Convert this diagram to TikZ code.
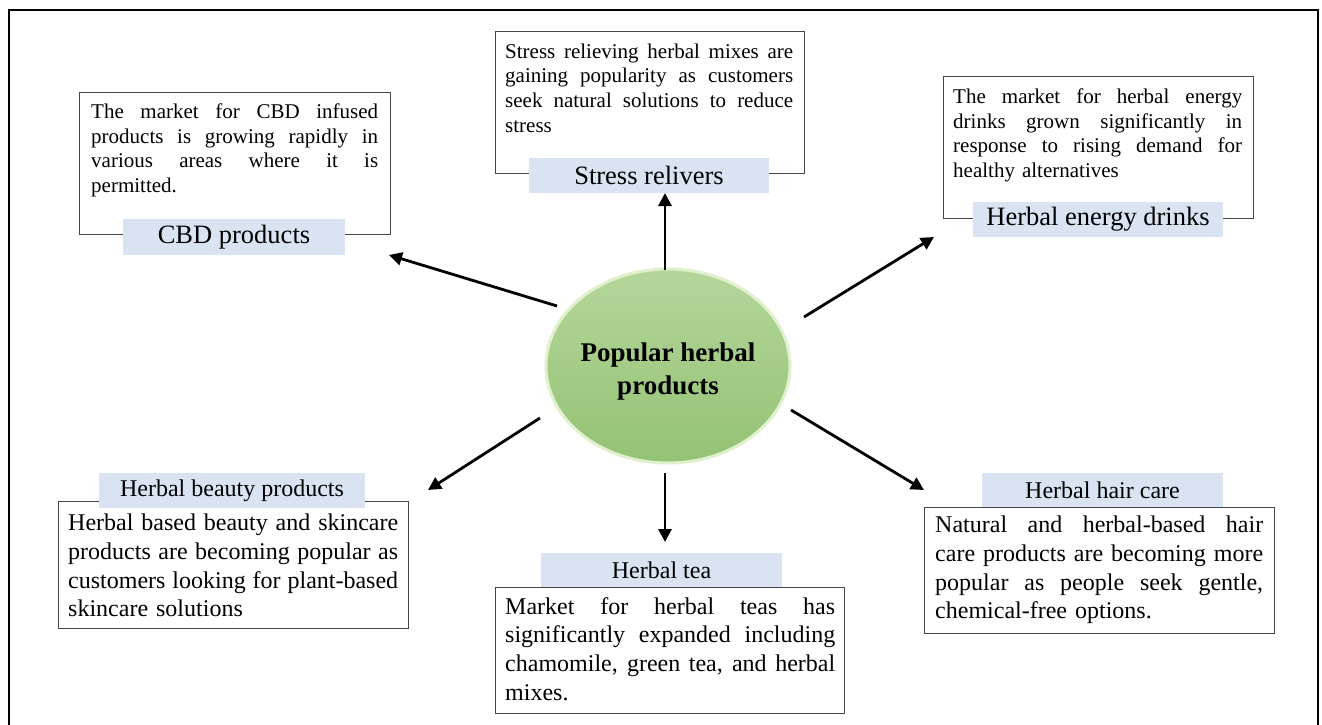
\documentclass[tikz,border=0pt]{standalone}
\usepackage{fontspec}
\setmainfont{Liberation Serif}
\usetikzlibrary{arrows.meta,shapes.geometric}

\definecolor{labelblue}{RGB}{218,227,242}
\definecolor{boxgray}{RGB}{70,70,70}
\definecolor{ellTop}{RGB}{180,214,154}
\definecolor{ellBot}{RGB}{148,194,116}
\definecolor{ellRim}{RGB}{224,240,204}

\newcommand\jline[2]{\leavevmode\hbox to #1{\spaceskip=\fontdimen2\font plus 1fil\relax #2}\\}

\begin{document}
\begin{tikzpicture}[x=1pt,y=-1pt,
  boxrect/.style={draw=boxgray, line width=1.1pt, rectangle, inner sep=0pt, anchor=north west},
  toptext/.style={anchor=north west, inner sep=0pt, align=left, font=\fontsize{21}{24.7}\selectfont},
  bottext/.style={anchor=north west, inner sep=0pt, align=left, font=\fontsize{24}{28.7}\selectfont},
  toplabel/.style={fill=labelblue, inner sep=0pt, font=\fontsize{26.5}{30}\selectfont},
  botlabel/.style={fill=labelblue, inner sep=0pt, font=\fontsize{24}{28}\selectfont},
  arr/.style={line width=2.8pt, -{Triangle[length=13pt,width=13pt]}},
]
\useasboundingbox (0,0) rectangle (1322,725);
\fill[white] (0,0) rectangle (1322,725);
\draw[line width=2.8pt, line join=miter] (9,725) -- (9,10) -- (1318,10) -- (1318,725);

% central ellipse
\node[ellipse, minimum width=244pt, minimum height=194pt, top color=ellTop, bottom color=ellBot,
      draw=ellRim, line width=3pt] (center) at (668,366) {};
\node[align=center, inner sep=0pt, font=\bfseries\fontsize{27}{33}\selectfont]
      (centertext) at (668,372) {Popular herbal\\products};

% CBD products
\node[boxrect, minimum width=311pt, minimum height=142pt] (cbdbox) at (79,92) {};
\node[toptext, text width=287pt] (cbdtext) at (91,103.5)
  {\jline{287pt}{The market for CBD infused}\jline{287pt}{products is growing rapidly in}\jline{287pt}{various areas where it is}permitted.};
\node[toplabel, minimum width=222pt, minimum height=36pt] (cbdlabel) at (234,237) {CBD products};

% Stress relivers
\node[boxrect, minimum width=309pt, minimum height=142pt] (stressbox) at (495,31) {};
\node[toptext, text width=288pt] (stresstext) at (505,43.5)
  {\jline{288pt}{Stress relieving herbal mixes are}\jline{288pt}{gaining popularity as customers}\jline{288pt}{seek natural solutions to reduce}stress};
\node[toplabel, minimum width=240pt, minimum height=35pt] (stresslabel) at (649,175.5) {Stress relivers};

% Herbal energy drinks
\node[boxrect, minimum width=310pt, minimum height=142pt] (energybox) at (943,76) {};
\node[toptext, text width=289pt] (energytext) at (953,88.5)
  {\jline{289pt}{The market for herbal energy}\jline{289pt}{drinks grown significantly in}\jline{289pt}{response to rising demand for}healthy alternatives};
\node[toplabel, minimum width=250pt, minimum height=35pt] (energylabel) at (1098,219.5) {Herbal energy drinks};

% Herbal beauty products
\node[boxrect, minimum width=350pt, minimum height=127pt] (beautybox) at (58,501) {};
\node[bottext, text width=330pt] (beautytext) at (68,514)
  {\jline{330pt}{Herbal based beauty and skincare}\jline{330pt}{products are becoming popular as}\jline{330pt}{customers looking for plant-based}skincare solutions};
\node[botlabel, minimum width=266pt, minimum height=35pt] (beautylabel) at (232,490.5) {Herbal beauty products};

% Herbal hair care
\node[boxrect, minimum width=350pt, minimum height=126pt] (hairbox) at (924,507) {};
\node[bottext, text width=328pt] (hairtext) at (935,516)
  {\jline{328pt}{Natural and herbal-based hair}\jline{328pt}{care products are becoming more}\jline{328pt}{popular as people seek gentle,}chemical-free options.};
\node[botlabel, minimum width=241pt, minimum height=34pt] (hairlabel) at (1102.5,490) {Herbal hair care};

% Herbal tea
\node[boxrect, minimum width=349pt, minimum height=126pt] (teabox) at (495,587) {};
\node[bottext, text width=330pt] (teatext) at (505,597)
  {\jline{330pt}{Market for herbal teas has}\jline{330pt}{significantly expanded including}\jline{330pt}{chamomile, green tea, and herbal}mixes.};
\node[botlabel, minimum width=241pt, minimum height=34pt] (tealabel) at (661.5,570) {Herbal tea};

% arrows
\coordinate (upS) at (665,270);   \coordinate (upE) at (665,193);
\coordinate (ulS) at (557,306);   \coordinate (ulE) at (389,255);
\coordinate (urS) at (804,317);   \coordinate (urE) at (934,237);
\coordinate (llS) at (540,418);   \coordinate (llE) at (428,490);
\coordinate (lrS) at (791,410);   \coordinate (lrE) at (924,490);
\coordinate (dnS) at (665,473);   \coordinate (dnE) at (665,542);
\draw[arr] (upS) -- (upE);
\draw[arr] (ulS) -- (ulE);
\draw[arr] (urS) -- (urE);
\draw[arr] (llS) -- (llE);
\draw[arr] (lrS) -- (lrE);
\draw[arr] (dnS) -- (dnE);
\end{tikzpicture}
\end{document}
